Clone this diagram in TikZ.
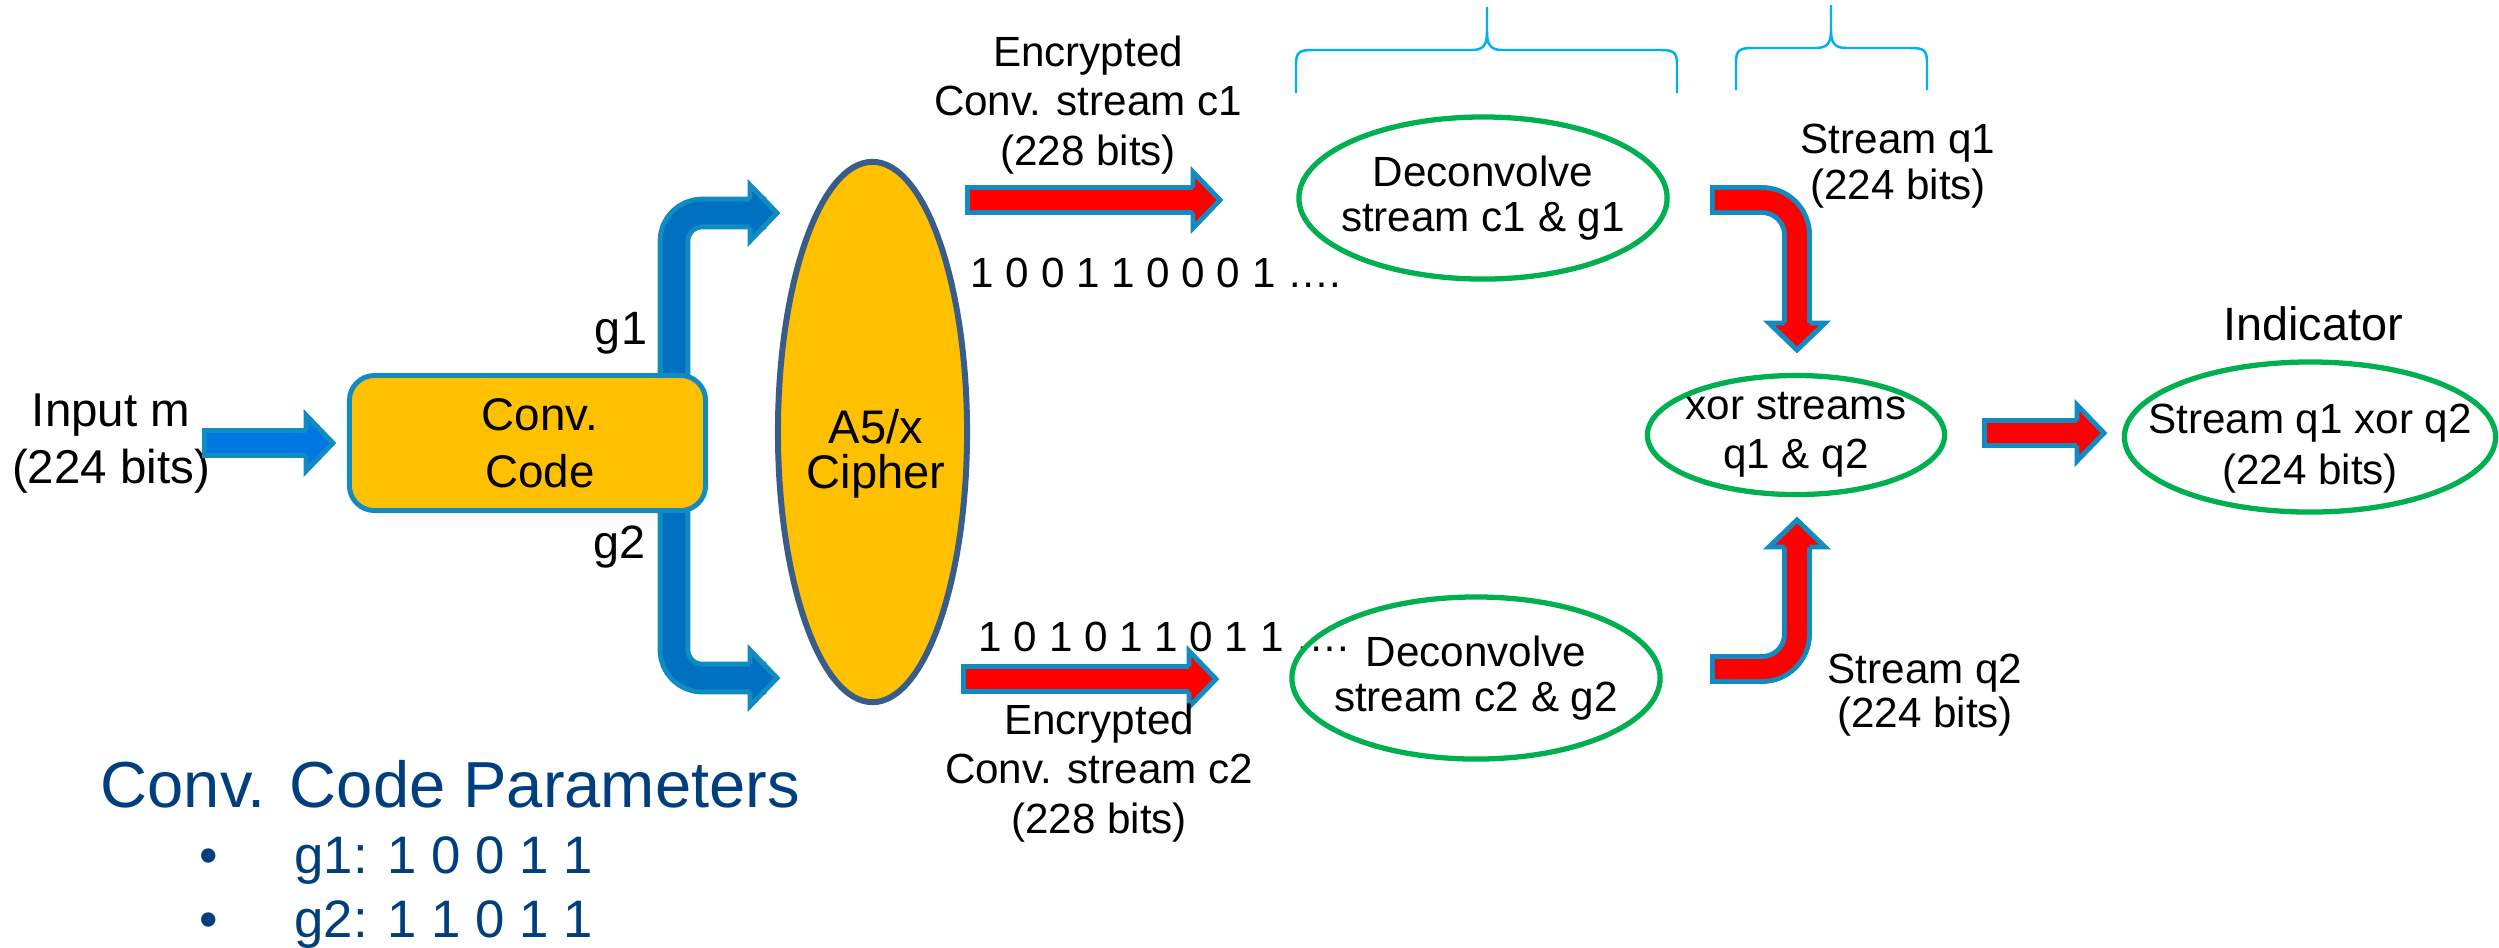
\documentclass[tikz,border=0pt]{standalone}
\usepackage{fontspec}
\setmainfont{Liberation Sans}
\usetikzlibrary{shapes.geometric}

\definecolor{cgold}{RGB}{255,192,0}
\definecolor{cedge}{RGB}{16,140,194}
\definecolor{cslate}{RGB}{56,93,138}
\definecolor{cblue}{RGB}{0,112,192}
\definecolor{cbright}{RGB}{0,120,228}
\definecolor{cgreen}{RGB}{0,176,80}
\definecolor{csky}{RGB}{0,176,240}
\definecolor{cnavy}{RGB}{0,62,126}

\tikzset{
  txt/.style={align=center, inner sep=0pt, font=\fontsize{12}{14}\selectfont},
  bigtxt/.style={align=center, inner sep=0pt, font=\fontsize{13.3}{16.2}\selectfont},
  stage/.style={ellipse, draw=cgreen, line width=1.5pt, inner sep=0pt},
  pipe/.style={draw=cedge, line width=1.4pt, double=#1, double distance=5.7pt,
    line cap=rect, shorten >=2.7mm},
  wide/.style={double distance=6.5pt},
  brace/.style={draw=csky, line width=0.7pt},
  pics/tip/.style 2 args={code={
    \fill[#1] (0,0) -- (-27,-28) -- (-27,28) -- cycle;
    \draw[cedge, line width=1.4pt, line join=miter]
      (-27,-#2) -- (-27,-28) -- (0,0) -- (-27,28) -- (-27,#2);
  }},
}

\begin{document}
\begin{tikzpicture}[x=0.01cm, y=-0.01cm]
    \useasboundingbox (0,0) rectangle (2499,947);

    % input
    \node[bigtxt, font=\fontsize{13.5}{16.2}\selectfont] (input) at (111,444) {Input m\\(224 bits)};
    \coordinate (inS) at (217,443);
    \coordinate (inE) at (333,443);
    \draw[pipe=cbright] (inS) -- (inE);
    \pic at (inE) {tip={cbright}{12.5}};

    % g1 and g2 branches (under the box)
    \coordinate (gx) at (674,443);
    \coordinate (g1E) at (777,213);
    \coordinate (g2E) at (777,678);
    \draw[pipe=cblue, wide, rounded corners=2.8mm] (gx) |- (g1E);
    \draw[pipe=cblue, wide, rounded corners=2.8mm] (gx) |- (g2E);
    \pic at (g1E) {tip={cblue}{14}};
    \pic at (g2E) {tip={cblue}{14}};
    \node[bigtxt] (g1) at (621,333) {g1};
    \node[bigtxt] (g2) at (620,547) {g2};

    % conv code and cipher
    \node[draw=cedge, fill=cgold, line width=1.4pt, rounded corners=2.5mm,
      minimum width=3.56cm, minimum height=1.35cm] (conv) at (527.5,443) {};
    \node[bigtxt, font=\fontsize{13}{16.2}\selectfont] (convtxt) at (540,443) {Conv.\\Code};
    \node[ellipse, draw=cslate, fill=cgold, line width=1.7pt, inner sep=0pt,
      minimum width=1.89cm, minimum height=5.40cm] (cipher) at (872.5,432) {};
    \node[bigtxt, font=\fontsize{13.4}{12.8}\selectfont] (ciphertxt) at (876,454) {A5/x\\Cipher};

    % encrypted streams
    \coordinate (c1S) at (980,200);
    \coordinate (c1E) at (1220,200);
    \draw[pipe=red] (c1S) -- (c1E);
    \pic at (c1E) {tip={red}{12.5}};
    \coordinate (c2S) at (976,679);
    \coordinate (c2E) at (1216,679);
    \draw[pipe=red] (c2S) -- (c2E);
    \pic at (c2E) {tip={red}{12.5}};
    \node[txt] (enc1) at (1088,105) {Encrypted\\Conv. stream c1\\(228 bits)};
    \node[txt] (enc2) at (1099,773) {Encrypted\\Conv. stream c2\\(228 bits)};
    \node[txt, anchor=base west] (bits1) at (970,287) {1 0 0 1 1 0 0 0 1 ….};
    \node[txt, anchor=base west] (bits2) at (978,651) {1 0 1 0 1 1 0 1 1 ….};

    % deconvolve
    \node[stage, minimum width=3.68cm, minimum height=1.62cm,
      label={[txt, font=\fontsize{12}{13}\selectfont, name=dec1txt]center:Deconvolve\\stream c1 \& g1}] (dec1) at (1483,198) {};
    \node[stage, minimum width=3.68cm, minimum height=1.62cm,
      label={[txt, font=\fontsize{12}{13}\selectfont, name=dec2txt]center:Deconvolve\\stream c2 \& g2}] (dec2) at (1476,678) {};

    % braces
    \draw[brace] (1296,93) -- (1296,64) .. controls (1296,52) and (1300,50) .. (1312,50)
      -- (1472,50) .. controls (1484,50) and (1487,44) .. (1487,32) -- (1487,7)
      -- (1487,32) .. controls (1487,44) and (1490,50) .. (1502,50)
      -- (1661,50) .. controls (1673,50) and (1677,52) .. (1677,64) -- (1677,93);
    \draw[brace] (1736,90) -- (1736,62) .. controls (1736,50) and (1740,48) .. (1752,48)
      -- (1816,48) .. controls (1828,48) and (1831,42) .. (1831,30) -- (1831,5)
      -- (1831,30) .. controls (1831,42) and (1834,48) .. (1846,48)
      -- (1911,48) .. controls (1923,48) and (1927,50) .. (1927,62) -- (1927,90);

    % streams q1 and q2
    \node[txt, font=\fontsize{12}{13}\selectfont] (q1txt) at (1898,166) {Stream q1\\(224 bits)};
    \node[txt, font=\fontsize{12}{12.5}\selectfont] (q2txt) at (1925,695) {Stream q2\\(224 bits)};
    \coordinate (q1S) at (1725,200);
    \coordinate (q1E) at (1797,350);
    \draw[pipe=red, rounded corners=3.5mm] (q1S) -| (q1E);
    \pic[rotate=-90] at (q1E) {tip={red}{12.5}};
    \coordinate (q2S) at (1725,669);
    \coordinate (q2E) at (1797,520);
    \draw[pipe=red, rounded corners=3.5mm] (q2S) -| (q2E);
    \pic[rotate=90] at (q2E) {tip={red}{12.5}};

    % xor and indicator
    \node[stage, minimum width=2.97cm, minimum height=1.19cm,
      label={[txt, name=xortxt]center:xor streams\\q1 \& q2}] (xor) at (1796,435) {};
    \coordinate (oS) at (1997,433);
    \coordinate (oE) at (2104,433);
    \draw[pipe=red] (oS) -- (oE);
    \pic at (oE) {tip={red}{12.5}};
    \node[txt, font=\fontsize{13.3}{15}\selectfont, anchor=base] (ind) at (2313,340) {Indicator};
    \node[stage, minimum width=3.71cm, minimum height=1.50cm,
      label={[txt, font=\fontsize{12}{14.5}\selectfont, name=outtxt, yshift=-1.2mm]center:Stream q1 xor q2\\(224 bits)}] (out) at (2310,437) {};

    % parameters
    \node[anchor=base west, inner sep=0pt, text=cnavy, font=\fontsize{18.5}{22}\selectfont] (params) at (100,807) {Conv. Code Parameters};
    \node[anchor=base west, inner sep=0pt, text=cnavy, font=\fontsize{15}{18}\selectfont] (par1) at (199,873) {\makebox[27pt][l]{•}g1: 1 0 0 1 1};
    \node[anchor=base west, inner sep=0pt, text=cnavy, font=\fontsize{15}{18}\selectfont] (par2) at (199,937) {\makebox[27pt][l]{•}g2: 1 1 0 1 1};
\end{tikzpicture}
\end{document}
